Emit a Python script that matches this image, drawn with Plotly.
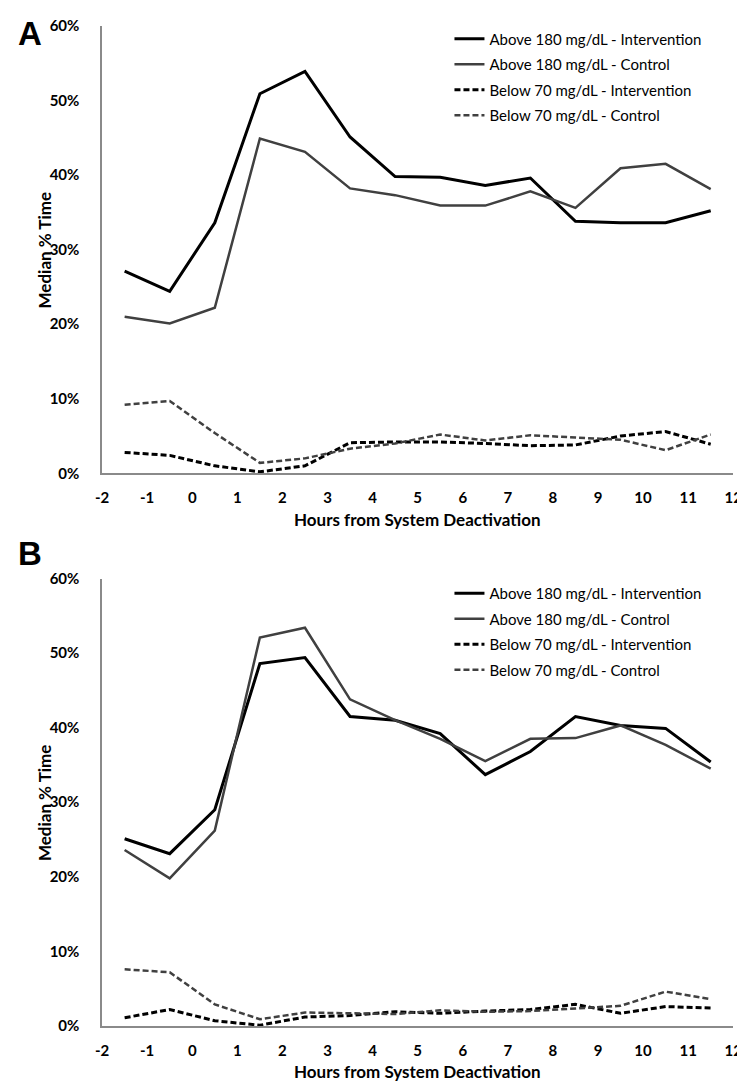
import plotly.graph_objects as go

hours = [-1.5, -0.5, 0.5, 1.5, 2.5, 3.5, 4.5, 5.5, 6.5, 7.5, 8.5, 9.5, 10.5, 11.5]

# Panel A
a_above_int = [27.1, 24.4, 33.6, 50.9, 53.9, 45.1, 39.8, 39.7, 38.6, 39.6, 33.8, 33.6, 33.6, 35.2]
a_above_ctl = [21.0, 20.1, 22.2, 44.9, 43.1, 38.2, 37.3, 35.9, 35.9, 37.8, 35.6, 40.9, 41.5, 38.1]
a_below_int = [2.8, 2.4, 1.0, 0.2, 1.0, 4.1, 4.2, 4.2, 4.0, 3.7, 3.8, 5.0, 5.6, 3.9]
a_below_ctl = [9.2, 9.7, 5.4, 1.4, 2.0, 3.3, 4.0, 5.2, 4.4, 5.1, 4.8, 4.5, 3.1, 5.2]

# Panel B
b_above_int = [25.1, 23.1, 29.0, 48.6, 49.4, 41.5, 41.0, 39.2, 33.7, 36.8, 41.5, 40.3, 39.9, 35.4]
b_above_ctl = [23.6, 19.8, 26.2, 52.1, 53.4, 43.8, 41.0, 38.5, 35.5, 38.5, 38.6, 40.3, 37.7, 34.5]
b_below_int = [1.1, 2.2, 0.7, 0.1, 1.2, 1.4, 1.9, 1.7, 2.0, 2.2, 2.9, 1.7, 2.6, 2.4]
b_below_ctl = [7.6, 7.2, 2.9, 0.9, 1.8, 1.7, 1.6, 2.1, 1.9, 2.0, 2.4, 2.7, 4.6, 3.6]

names = ["Above 180 mg/dL - Intervention", "Above 180 mg/dL - Control",
         "Below 70 mg/dL - Intervention", "Below 70 mg/dL - Control"]

x_ticks = list(range(-2, 13))
y_ticks = [0, 10, 20, 30, 40, 50, 60]
y_tick_text = ["0%", "10%", "20%", "30%", "40%", "50%", "60%"]

FONT = "Lato"
BLACK = "#000000"
GRAY = "#404040"
styles = [
    dict(color=BLACK, width=3, dash="solid"),
    dict(color=GRAY, width=2.5, dash="solid"),
    dict(color=BLACK, width=3, dash="6px,3px"),
    dict(color=GRAY, width=2.5, dash="6px,3px"),
]

fig = go.Figure()
panelA = [a_above_int, a_above_ctl, a_below_int, a_below_ctl]
panelB = [b_above_int, b_above_ctl, b_below_int, b_below_ctl]
for i, ys in enumerate(panelA):
    fig.add_trace(go.Scatter(x=hours, y=ys, mode="lines", name=names[i], legendgroup=f"a{i}",
                             line=styles[i], xaxis="x", yaxis="y", legend="legend"))
for i, ys in enumerate(panelB):
    fig.add_trace(go.Scatter(x=hours, y=ys, mode="lines", name=names[i], legendgroup=f"b{i}",
                             line=styles[i], xaxis="x2", yaxis="y2", legend="legend2"))

W, H = 745, 1083
x0, x1 = 89 / W, 734 / W
ydomA = [1 - 463 / H, 1 - 8 / H]
ydomB = [1 - 1025 / H, 1 - 570 / H]

axis_common = dict(showgrid=False, zeroline=False, showline=True, linecolor="#8a8a8a",
                   linewidth=1.5, ticks="", tickfont=dict(family=FONT, size=15, color="#000", weight="bold"))

xaxis_common = dict(axis_common, range=[-2, 12], tickmode="array", tickvals=x_ticks,
                    ticktext=[str(t) for t in x_ticks], domain=[x0, x1], ticklabelstandoff=10,
                    ticklabeloverflow="allow")
yaxis_common = dict(axis_common, range=[0, 60], tickmode="array", tickvals=y_ticks,
                    ticktext=y_tick_text, ticklabelstandoff=18)

legend_common = dict(font=dict(family=FONT, size=15, color="#000"), bgcolor="rgba(0,0,0,0)",
                     xanchor="left", yanchor="top", tracegroupgap=3, itemwidth=30,
                     borderwidth=0)


def txt(text, x, y, size, family=FONT, angle=0):
    return dict(text=text, x=x / W, y=1 - y / H, xref="paper", yref="paper", showarrow=False,
                xanchor="center", yanchor="middle", textangle=angle,
                font=dict(family=family, size=size, color="#000", weight="bold"))


fig.update_layout(
    width=W, height=H, autosize=False,
    margin=dict(l=0, r=0, t=0, b=0),
    paper_bgcolor="white", plot_bgcolor="white",
    showlegend=True,
    xaxis=dict(xaxis_common, anchor="y"),
    yaxis=dict(yaxis_common, domain=ydomA, anchor="x"),
    xaxis2=dict(xaxis_common, anchor="y2"),
    yaxis2=dict(yaxis_common, domain=ydomB, anchor="x2"),
    legend=dict(legend_common, x=444 / W, y=1 - 4.5 / H),
    legend2=dict(legend_common, x=444 / W, y=1 - 568.5 / H),
    annotations=[
        txt("A", 15, 16, 33, family="Liberation Sans"),
        txt("B", 15, 545, 33, family="Liberation Sans"),
        txt("Hours from System Deactivation", (89 + 734) / 2, 510, 17),
        txt("Hours from System Deactivation", (89 + 734) / 2, 1071, 17),
        txt("Median % Time", 30, 236, 17, angle=-90),
        txt("Median % Time", 30, 798, 17, angle=-90),
    ],
)

fig.write_html("out.html")
